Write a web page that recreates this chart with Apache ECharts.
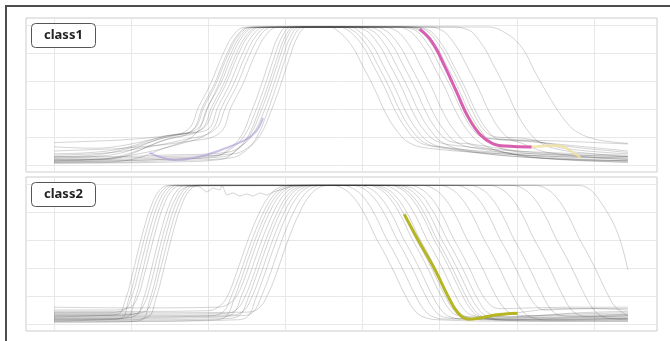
<!DOCTYPE html>
<html>
<head>
<meta charset="utf-8">
<script src="https://cdn.jsdelivr.net/npm/echarts@6/dist/echarts.min.js"></script>
<style>
html,body{margin:0;padding:0;background:#fff;}
#chart{width:670px;height:341px;}
</style>
</head>
<body>
<div id="chart"></div>
<script>
// ---------- data ----------
const panelTitles = ['class1', 'class2'];
const xGridValues = [0, 10, 20, 30, 40, 50, 60, 70];
const yGridValues = [0, 20, 40, 60, 80, 100];

// panel 1 (class1) grey curves: [x, value]
const p1_01 = [[0,5],[5,6],[9,9],[13.3,18],[17.3,25],[18.8,42],[20.3,58],[21.8,78],[23.3,93],[24.8,98.4],[35.5,98.6],[36.5,97],[38.5,86],[40,71],[41.5,55],[43,37],[44.5,24],[46,16],[48.5,12],[58,8],[74.4,4]];
const p1_02 = [[0,3],[5,3.5],[9,6],[13.8,17],[17.8,24],[19.3,42],[20.8,58],[22.3,78],[23.8,93],[25.3,98.4],[38,98.6],[39.2,97],[41.2,86],[42.7,71],[44.2,55],[45.7,37],[47.2,24],[48.7,16],[51.2,12],[60,6],[74.4,3]];
const p1_03 = [[0,8],[5,9],[9,12],[14,20],[18,25],[19.5,42],[21,58],[22.5,78],[24,93],[25.5,98.4],[40,98.6],[41.8,97],[43.8,86],[45.3,71],[46.8,55],[48.3,37],[49.8,24],[51.3,17],[54,15],[62,9],[74.4,6]];
const p1_04 = [[0,2],[5,2],[9,3],[14.3,12],[18.3,22],[19.8,40],[21.3,57],[22.8,78],[24.3,93],[25.8,98.4],[42,98.6],[44,97],[46,86],[47.5,71],[49,55],[50.5,37],[52,24],[53.5,16],[56,12],[63,5],[74.4,2]];
const p1_05 = [[0,16],[5,17],[9,18],[14.6,21],[18.6,26],[20.1,43],[21.6,58],[23.1,78],[24.6,93],[26.1,98.4],[45,98.6],[47,97],[49,86],[50.5,71],[52,55],[53.5,37],[55,24],[56.5,19],[60,18],[66,17],[74.4,15]];
const p1_06 = [[0,4],[5,4],[9,7],[15,19],[19,25],[20.5,42],[22,58],[23.5,78],[25,93],[26.5,98.4],[39,98.6],[40.9,97],[42.9,86],[44.4,71],[45.9,55],[47.4,37],[48.9,24],[50.4,16],[53,11],[61,7],[74.4,5]];
const p1_07 = [[0,6],[5,7],[9,11],[15.3,21],[19.3,26],[20.8,42],[22.3,58],[23.8,78],[25.3,93],[26.8,98.4],[46,98.6],[47.9,97],[49.9,86],[51.4,71],[52.9,55],[54.4,37],[55.9,24],[57.4,20],[61,19],[66,12],[74.4,8]];
const p1_08 = [[0,13],[5,12],[9,14],[15.8,22],[19.8,25],[21.3,42],[22.8,58],[24.3,78],[25.8,93],[27.3,98.4],[44,98.6],[45.7,97],[47.7,86],[49.2,71],[50.7,55],[52.2,37],[53.7,24],[55.2,16],[57.7,10],[63,5],[74.4,3]];
const p1_09 = [[0,3],[5,4],[9,6],[16.3,15],[20.3,24],[21.8,42],[23.3,58],[24.8,78],[26.3,93],[27.8,98.4],[46,98.6],[48.3,97],[50.3,86],[51.8,71],[53.3,55],[54.8,37],[56.3,24],[57.8,18],[61,17],[67,14],[74.4,10]];
const p1_10 = [[0,7],[5,8],[9,10],[16.8,18],[20.8,25],[22.3,42],[23.8,58],[25.3,78],[26.8,93],[28.3,98.4],[51,98.6],[53.5,97],[55.5,86],[57,71],[58.5,55],[60,37],[61.5,24],[63,16],[65.5,11],[70,8],[74.4,6]];
const p1_11 = [[0,10],[5,11],[9,12],[17.5,17],[21.5,23],[23,42],[24.5,58],[26,78],[27.5,93],[29,98.4],[37,98.6],[38.5,97],[40.5,86],[42,71],[43.5,55],[45,37],[46.5,24],[48,16],[50.5,12],[60,6],[74.4,2]];
const p1_12 = [[0,2],[8,3],[14,4],[20.8,6],[22.8,12],[24.3,21],[25.6,38],[26.8,56],[28,76],[29.1,92],[30.3,98.5],[38,98.6],[40.1,97],[42.1,86],[43.6,71],[45.1,55],[46.6,37],[48.1,24],[49.6,17],[52,14],[60,10],[74.4,7]];
const p1_13 = [[0,4],[8,4],[14,5],[21.3,7],[23.3,13],[24.8,22],[26.1,38],[27.3,56],[28.5,76],[29.6,92],[30.8,98.5],[41,98.6],[42.7,97],[44.7,86],[46.2,71],[47.7,55],[49.2,37],[50.7,24],[52.2,16],[54.7,12],[63,6],[74.4,3]];
const p1_14 = [[0,1],[8,1.5],[14,2],[21.7,4],[23.7,11],[25.2,21],[26.5,38],[27.7,56],[28.9,76],[30,92],[31.2,98.5],[45,98.6],[47.4,97],[49.4,86],[50.9,71],[52.4,55],[53.9,37],[55.4,24],[56.9,15],[59.4,10],[65,7],[74.4,5]];
const p1_15 = [[0,3],[8,3],[14,4],[22,6],[24,12],[25.5,22],[26.8,38],[28,56],[29.2,76],[30.3,92],[31.5,98.5],[48,98.6],[50,97],[52,86],[53.5,71],[55,55],[56.5,37],[58,24],[59.5,18],[62,17],[67,13],[74.4,9]];
const p1_16 = [[0,6],[8,6],[14,7],[22.4,9],[24.4,14],[25.9,23],[27.2,38],[28.4,56],[29.6,76],[30.7,92],[31.9,98.5],[56,98.6],[58,96],[60.5,85],[62.5,65],[64.5,46],[66.5,30],[68,23],[70.5,18],[74.4,15.5]];
const p1_17 = [[0,2],[8,2],[14,3],[22.8,5],[24.8,10],[26.3,20],[27.6,37],[28.8,56],[30,76],[31.1,92],[32.3,98.5],[44,98.6],[46.5,97],[48.5,86],[50,71],[51.5,55],[53,37],[54.5,24],[56,19],[59,18],[64,9],[74.4,4]];
const p1_18 = [[0,5],[8,5],[14,6],[23.3,8],[25.3,13],[26.8,22],[28.1,38],[29.3,56],[30.5,76],[31.6,92],[32.8,98.5],[36.5,98.6],[37.9,97],[39.9,86],[41.4,71],[42.9,55],[44.4,37],[45.9,24],[47.4,16],[50,13],[58,9],[74.4,6]];
// panel 1 coloured traces
const p1Purple = [[12.4,8.6],[15.7,3.6],[18.5,5.5],[20.9,9.3],[24.8,17.9],[26.2,24],[27.1,33.6]];
const p1Yellow = [[52,55],[53.5,37],[55,24],[56.6,16],[58.5,13.5],[62,13],[65.4,14],[67,10],[68.3,5]];
const p1Pink = [[47.4,97],[49,88],[50.7,70],[52.2,52],[53.7,34],[55.2,22],[56.8,15.5],[58.5,13.5],[61.9,12.9]];

// panel 2 (class2) grey curves
const p2_01 = [[0,5],[5.8,6],[8.3,7],[9.3,18],[10.1,34],[10.8,50],[11.6,67],[12.5,83],[13.6,95],[14.8,99],[37.2,99],[38.7,97],[40.2,90],[41.7,77],[43,62],[44.2,50],[45.4,37],[46.7,22],[48,10],[49.2,5],[51.2,3.5],[60,3.5],[74.4,4]];
const p2_02 = [[0,2],[6.2,3],[8.7,4],[9.7,18],[10.5,34],[11.2,50],[12,67],[12.9,83],[14,95],[15.2,99],[43.7,99],[45.2,97],[46.7,90],[48.2,77],[49.5,62],[50.7,50],[51.9,37],[53.2,22],[54.5,10],[55.7,5],[57.7,3],[65,4],[74.4,6]];
const p2_03 = [[0,8],[6.6,8],[9.1,10],[10.1,20],[10.9,35],[11.6,50],[12.4,67],[13.3,83],[14.4,95],[15.6,99],[49.8,99],[51.3,97],[52.8,90],[54.3,77],[55.6,62],[56.8,50],[58,37],[59.3,22],[60.6,10],[61.8,5],[63.8,3],[74.4,3]];
const p2_04 = [[0,3],[7,3.5],[9.5,5],[10.5,18],[11.3,34],[12,50],[12.8,67],[13.7,83],[14.8,95],[16,99],[40.5,99],[42,97],[43.5,90],[45,77],[46.3,62],[47.5,50],[48.7,37],[50,22],[51.3,10],[52.5,6],[56,5],[65,6],[74.4,7]];
const p2_05 = [[0,10],[7.4,10],[9.9,12],[10.9,20],[11.7,35],[12.4,50],[13.2,67],[14.1,83],[15.2,95],[16.4,98.5],[56.3,99],[57.8,97],[59.3,90],[60.8,77],[62.1,62],[63.3,50],[64.5,37],[65.8,22],[67.1,10],[68.3,6],[70.3,5],[74.4,5]];
const p2_06 = [[0,4],[8.1,4],[10.6,6],[11.6,18],[12.4,34],[13.1,50],[13.9,67],[14.8,83],[15.9,95],[17.1,99],[35.9,99],[37.4,97],[38.9,90],[40.4,77],[41.7,62],[42.9,50],[44.1,37],[45.4,22],[46.7,10],[47.9,5],[49.9,3],[60,2],[74.4,2]];
const p2_07 = [[0,6],[8.5,6],[11,8],[12,18],[12.8,34],[13.5,50],[14.3,67],[15.2,83],[16.3,95],[17.5,98.5],[18.9,97.9],[19.8,94.3],[20.6,97.1],[21.5,95.7],[21.8,99],[22.4,92.1],[23.2,93.6],[24.1,91.4],[25,92.9],[25.8,91.4],[26.7,93.6],[27.6,92.1],[28.4,94.3],[29.3,95.7],[31,98.5],[45,99],[46.5,97],[48,90],[49.5,77],[50.8,62],[52,50],[53.2,37],[54.5,22],[55.8,10],[57,6],[59,5],[66,7],[74.4,8]];
const p2_08 = [[0,1],[8.9,1.5],[11.4,3],[12.4,17],[13.2,33],[13.9,50],[14.7,67],[15.6,83],[16.7,95],[17.9,99],[41.5,99],[43,97],[44.5,90],[46,77],[47.3,62],[48.5,50],[49.7,37],[51,22],[52.3,10],[53.5,5],[55.5,3],[65,2.5],[74.4,3]];
const p2_09 = [[0,7],[9.3,7],[11.8,9],[12.8,19],[13.6,35],[14.3,50],[15.1,67],[16,83],[17.1,95],[18.3,99],[51.9,99],[53.4,97],[54.9,90],[56.4,77],[57.7,62],[58.9,50],[60.1,37],[61.4,22],[62.7,12],[63.9,10],[66,10.5],[70,11],[74.4,10]];
const p2_10 = [[0,3],[9.7,3],[12.2,5],[13.2,18],[14,34],[14.7,50],[15.5,67],[16.4,83],[17.5,95],[18.7,99],[38.5,99],[40,97],[41.5,90],[43,77],[44.3,62],[45.5,50],[46.7,37],[48,22],[49.3,10],[50.5,5],[52.5,4],[62,4.5],[74.4,5]];
const p2_11 = [[0,9],[10,9],[20,9.5],[21.5,13],[22.5,20],[23.5,34],[24.5,50],[25.5,65],[26.5,78],[27.7,90],[29,97],[30.5,99],[39.4,99],[40.9,97],[42.4,90],[43.9,77],[45.2,62],[46.4,50],[47.6,37],[48.9,22],[50.2,10],[51.4,5],[53.4,3.5],[63,3.5],[74.4,4]];
const p2_12 = [[0,5],[10,5],[20.5,6],[22,9],[23,20],[24,34],[25,50],[26,65],[27,78],[28.2,90],[29.5,97],[31,99],[43.3,99],[44.8,97],[46.3,90],[47.8,77],[49.1,62],[50.3,50],[51.5,37],[52.8,22],[54.1,10],[55.3,5],[57.3,3],[66,2],[74.4,2]];
const p2_13 = [[0,2],[10,2],[20.9,3],[22.4,6],[23.4,19],[24.4,34],[25.4,50],[26.4,65],[27.4,78],[28.6,90],[29.9,97],[31.4,99],[62.2,99],[63.7,97],[65.2,90],[66.7,77],[68,62],[69.2,50],[70.4,37],[71.7,22],[72.8,12],[74.4,6]];
const p2_14 = [[0,12],[10,11.5],[21.3,12],[22.8,15],[23.8,21],[24.8,34],[25.8,50],[26.8,65],[27.8,78],[29,90],[30.3,97],[31.8,99],[47.6,99],[49.1,97],[50.6,90],[52.1,77],[53.4,62],[54.6,50],[55.8,37],[57.1,22],[58.4,11],[59.6,7],[61.6,6],[68,8],[74.4,9]];
const p2_15 = [[0,4],[10,4],[21.8,5],[23.3,8],[24.3,20],[25.3,34],[26.3,50],[27.3,65],[28.3,78],[29.5,90],[30.8,97],[32.3,99],[59.2,99],[60.7,97],[62.2,90],[63.7,77],[65,62],[66.2,50],[67.4,37],[68.7,22],[70,10],[71.2,5],[72.8,3.5],[74.4,3]];
const p2_16 = [[0,7],[10,7],[22.3,7.5],[23.8,11],[24.8,20],[25.8,34],[26.8,50],[27.8,65],[28.8,78],[30,90],[31.3,97],[32.8,99],[42.4,99],[43.9,97],[45.4,90],[46.9,77],[48.2,62],[49.4,50],[50.6,37],[51.9,22],[53.2,10],[54.4,6],[56.4,5],[60,8],[66,11],[74.4,11]];
const p2_17 = [[0,3],[10,3],[22.7,4],[24.2,7],[25.2,19],[26.2,34],[27.2,50],[28.2,65],[29.2,78],[30.4,90],[31.7,97],[33.2,99],[53.7,99],[55.2,97],[56.7,90],[58.2,77],[59.5,62],[60.7,50],[61.9,37],[63.2,22],[64.5,10],[65.7,6],[67.7,5.5],[74.4,7]];
const p2_18 = [[0,6],[10,6],[23.2,6.5],[24.7,10],[25.7,20],[26.7,34],[27.7,50],[28.7,65],[29.7,78],[30.9,90],[32.2,97],[33.7,99],[44.3,99],[45.8,97],[47.3,90],[48.8,77],[50.1,62],[51.3,50],[52.5,37],[53.8,22],[55.1,10],[56.3,5],[58.3,3],[65,3],[74.4,4]];
const p2_19 = [[0,2],[10,2],[23.7,3],[25.2,6],[26.2,19],[27.2,34],[28.2,50],[29.2,65],[30.2,78],[31.4,90],[32.7,97],[34.2,99],[67.9,99],[69.5,96],[71,86],[72.5,72],[73.5,58],[74.4,38.6]];
const p2_20 = [[0,5],[10,5],[24.4,6],[25.9,9],[26.9,20],[27.9,34],[28.9,50],[29.9,65],[30.9,78],[32.1,90],[33.4,97],[34.9,99],[45.9,99],[47.4,97],[48.9,90],[50.4,77],[51.7,62],[52.9,50],[54.1,37],[55.4,22],[56.7,13],[58,11],[62,11.5],[68,12],[74.4,12]];
const p2_21 = [[0,8],[10,8],[25.2,8.5],[26.7,12],[27.7,21],[28.7,34],[29.7,50],[30.7,65],[31.7,78],[32.9,90],[34.2,97],[35.7,99],[41,99],[42.5,97],[44,90],[45.5,77],[46.8,62],[48,50],[49.2,37],[50.5,22],[51.8,10],[53,5],[55,4],[64,5],[74.4,6]];
// panel 2 coloured trace
const p2Olive = [[45.4,78.4],[47.2,60],[49.4,38.6],[51.1,19.5],[52.4,7.6],[53.7,3.4],[55,4.1],[57.2,6.4],[60.1,7.6]];

const panel1Lines = [p1_01,p1_02,p1_03,p1_04,p1_05,p1_06,p1_07,p1_08,p1_09,p1_10,p1_11,p1_12,p1_13,p1_14,p1_15,p1_16,p1_17,p1_18];
const panel2Lines = [p2_01,p2_02,p2_03,p2_04,p2_05,p2_06,p2_07,p2_08,p2_09,p2_10,p2_11,p2_12,p2_13,p2_14,p2_15,p2_16,p2_17,p2_18,p2_19,p2_20,p2_21];

// ---------- chart ----------
const chart = echarts.init(document.getElementById('chart'), null, {renderer: 'canvas'});

function gridMarkLine() {
  return {
    silent: true,
    z: 0,
    symbol: ['none', 'none'],
    label: {show: false},
    animation: false,
    lineStyle: {color: '#e8e8e8', width: 1, type: 'solid'},
    emphasis: {disabled: true},
    data: xGridValues.map(v => ({xAxis: v})).concat(yGridValues.map(v => ({yAxis: v})))
  };
}

const series = [];
[0, 1].forEach(gi => {
  series.push({
    type: 'line', xAxisIndex: gi, yAxisIndex: gi, data: [], silent: true,
    markLine: gridMarkLine(), z: 0
  });
});
panel1Lines.forEach(d => series.push({
  type: 'line', xAxisIndex: 0, yAxisIndex: 0, data: d, showSymbol: false, smooth: 0.4,
  silent: true, z: 2, lineStyle: {color: 'rgba(60,60,60,0.22)', width: 1}
}));
panel2Lines.forEach((d, i) => series.push({
  type: 'line', xAxisIndex: 1, yAxisIndex: 1, data: d, showSymbol: false, smooth: i === 6 ? 0.15 : 0.4,
  silent: true, z: 2, lineStyle: {color: 'rgba(60,60,60,0.22)', width: 1}
}));
series.push({type: 'line', xAxisIndex: 0, yAxisIndex: 0, data: p1Purple, showSymbol: false, smooth: 0.4, silent: true, z: 3,
  lineStyle: {color: 'rgba(170,150,215,0.6)', width: 2}});
series.push({type: 'line', xAxisIndex: 0, yAxisIndex: 0, data: p1Yellow, showSymbol: false, smooth: 0.4, silent: true, z: 3,
  lineStyle: {color: 'rgba(238,226,160,0.85)', width: 2.5}});
series.push({type: 'line', xAxisIndex: 0, yAxisIndex: 0, data: p1Pink, showSymbol: false, smooth: 0.4, silent: true, z: 4,
  lineStyle: {color: '#d95fb3', width: 3}});
series.push({type: 'line', xAxisIndex: 1, yAxisIndex: 1, data: p2Olive, showSymbol: false, smooth: 0.4, silent: true, z: 4,
  lineStyle: {color: '#b6b523', width: 3}});

function hiddenAxis(gi, min, max) {
  return {type: 'value', gridIndex: gi, min: min, max: max,
    axisLine: {show: false}, axisTick: {show: false}, axisLabel: {show: false}, splitLine: {show: false}};
}

function titleBox(text, top) {
  return {
    text: text, left: 31, top: top,
    padding: [5, 13],
    borderColor: '#555', borderWidth: 1, borderRadius: 4, backgroundColor: '#fff',
    textStyle: {fontSize: 13, fontWeight: 'bold', color: '#222', fontFamily: 'Noto Sans', lineHeight: 15}
  };
}

chart.setOption({
  animation: false,
  backgroundColor: '#fff',
  graphic: [{
    type: 'rect', silent: true, z: 100,
    shape: {x: 6, y: 6, width: 720, height: 420},
    style: {fill: 'none', stroke: '#4d4d4d', lineWidth: 2}
  }],
  title: [titleBox(panelTitles[0], 23), titleBox(panelTitles[1], 182)],
  grid: [
    {left: 26, top: 18, width: 631, height: 154, show: true, borderColor: '#cccccc', borderWidth: 1},
    {left: 26, top: 177, width: 631, height: 154, show: true, borderColor: '#cccccc', borderWidth: 1}
  ],
  xAxis: [hiddenAxis(0, -3.63, 78.17), hiddenAxis(1, -3.63, 78.17)],
  yAxis: [hiddenAxis(0, -5, 105), hiddenAxis(1, -5, 105)],
  series: series
});
</script>
</body>
</html>
